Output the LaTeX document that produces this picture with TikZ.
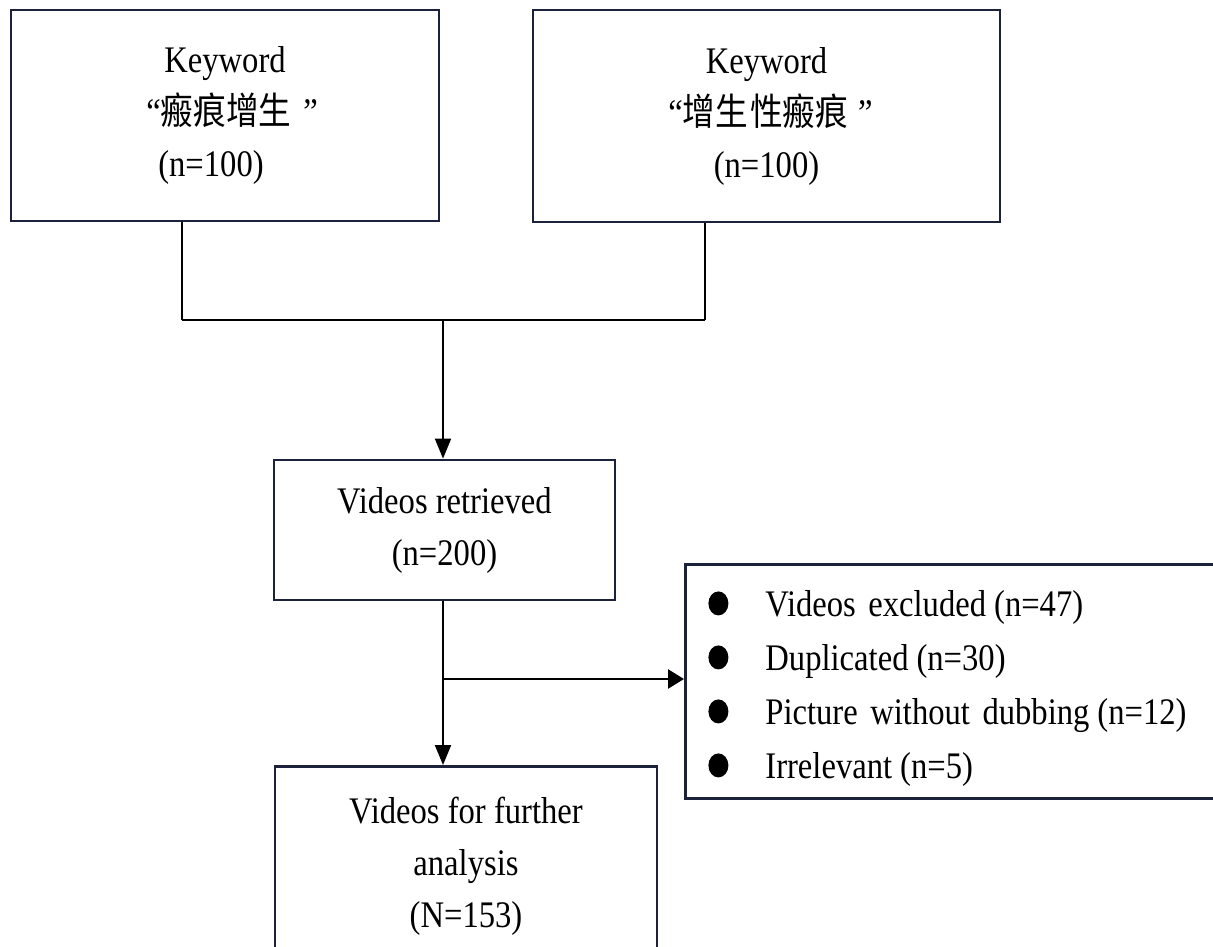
\documentclass[tikz,border=0pt]{standalone}
\usepackage{fontspec}
\setmainfont[FakeStretch=0.87]{Liberation Serif}
\newfontfamily\cjk[FakeStretch=0.87]{Noto Sans CJK SC}
\usetikzlibrary{arrows.meta}
\definecolor{boxc}{RGB}{28,34,60}
\newcommand\bul{\makebox[47pt][l]{\kern-10pt\tikz[baseline=0pt]\fill[black] (0pt,13pt) ellipse [x radius=10pt, y radius=12pt];}}
\tikzset{
  box/.style={draw=boxc, line width=2.8pt, align=center, inner sep=0pt,
              font=\fontsize{37.5}{52}\selectfont},
  conn/.style={line width=2pt, draw=black},
  hconn/.style={line width=2.6pt, draw=black},
  arr/.style={conn, -{Triangle[length=20pt,width=16pt]}},
  harr/.style={hconn, -{Triangle[length=16pt,width=19pt]}}
}
\begin{document}
\begin{tikzpicture}[x=1pt,y=-1pt]
\clip (0,0) rectangle (1213,946);
\fill[white] (0,0) rectangle (1213,946);
\node[box, minimum width=428pt, minimum height=211pt] (k1) at (225,115.5)
  {Keyword\\\kern14pt“{\cjk 瘢痕增生}\hspace{12pt}”\\(n=100)\kern28pt};
\node[box, minimum width=467pt, minimum height=212pt] (k2) at (766.5,116)
  {Keyword\\\kern8pt“{\cjk 增生\hspace{2pt}性瘢痕}\hspace{10pt}”\\(n=100)};
\node[box, minimum width=341pt, minimum height=140pt] (v1) at (444.5,530)
  {Videos retrieved\\(n=200)};
\node[box, anchor=north, minimum width=382pt, minimum height=200pt] (v4) at (466,765)
  {Videos for further\\analysis\\(N=153)};
\node[box, anchor=north west, text width=500pt, inner xsep=33pt, minimum height=234pt,
      align=left, font=\fontsize{37.5}{54}\selectfont] (ex) at (684,563)
  {\rule{0pt}{40pt}\bul Videos excluded\hspace{8pt}(n=47)\\
   \bul Duplicated\hspace{8pt}(n=30)\\
   \bul Picture without dubbing\hspace{8pt}(n=12)\\
   \bul Irrelevant\hspace{8pt}(n=5)};
\coordinate (ja) at (182,320);
\coordinate (jb) at (705,320);
\coordinate (jm) at (443,320);
\coordinate (jx) at (443,679);
\draw[conn] (k1.south -| ja) -- (ja);
\draw[conn] (k2.south -| jb) -- (jb);
\draw[hconn] (ja) -- (jb);
\draw[arr] (jm) -- (jm |- v1.north);
\draw[arr] (v1.south -| jm) -- (jm |- v4.north);
\draw[harr] (jx) -- (jx -| ex.west);
\end{tikzpicture}
\end{document}
